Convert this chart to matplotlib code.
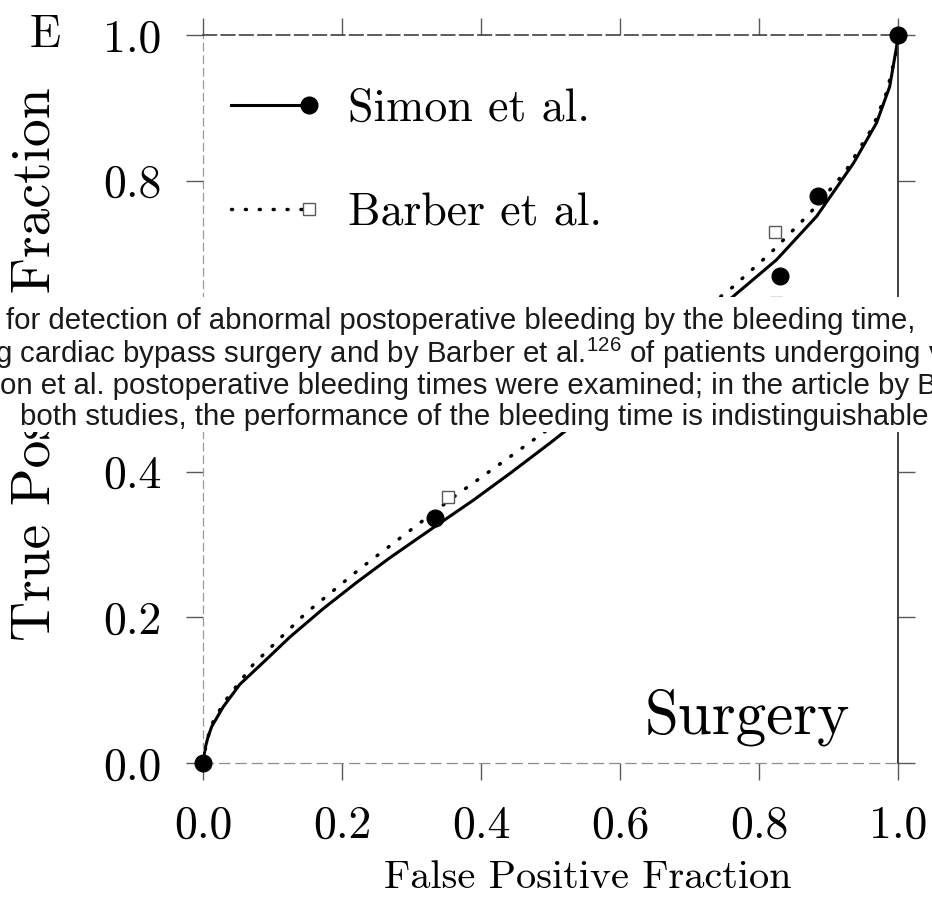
import matplotlib
matplotlib.use('Agg')
import matplotlib.pyplot as plt
from matplotlib.lines import Line2D
from matplotlib.patches import Rectangle
from matplotlib.legend_handler import HandlerLine2D

# ROC curves (FPF, TPF)
simon_fpf = [0, 0.003, 0.007, 0.0125, 0.029, 0.053, 0.092, 0.125, 0.173, 0.221, 0.269,
             0.334, 0.389, 0.442, 0.50, 0.60, 0.70, 0.763, 0.825, 0.883, 0.936, 0.969,
             0.988, 0.998, 1.0]
simon_tpf = [0, 0.02, 0.035, 0.050, 0.077, 0.108, 0.143, 0.173, 0.212, 0.248, 0.282,
             0.325, 0.361, 0.398, 0.440, 0.515, 0.590, 0.641, 0.691, 0.751, 0.824, 0.879,
             0.929, 0.984, 1.0]
barber_fpf = [0, 0.005, 0.012, 0.03, 0.072, 0.147, 0.226, 0.307, 0.36, 0.432, 0.55, 0.65,
              0.760, 0.816, 0.873, 0.924, 0.964, 0.984, 0.997, 1.0]
barber_tpf = [0, 0.028, 0.052, 0.083, 0.135, 0.205, 0.267, 0.326, 0.365, 0.414, 0.495, 0.57,
              0.652, 0.700, 0.755, 0.812, 0.874, 0.922, 0.975, 1.0]

# observed operating points
simon_pt_x = [0, 0.334, 0.830, 0.885, 1.0]
simon_pt_y = [0, 0.336, 0.669, 0.779, 1.0]
barber_pt_x = [0.353, 0.823, 0.825]
barber_pt_y = [0.366, 0.730, 0.632]

ticks = [0.0, 0.2, 0.4, 0.6, 0.8, 1.0]
tick_labels = ['0.0', '0.2', '0.4', '0.6', '0.8', '1.0']

caption = [
    'for detection of abnormal postoperative bleeding by the bleeding time,',
    'g cardiac bypass surgery and by Barber et al.$^{126}$ of patients undergoing v',
    'on et al. postoperative bleeding times were examined; in the article by B',
    'both studies, the performance of the bleeding time is indistinguishable',
]
cap_font = 'Liberation Sans'

plt.rcParams['font.family'] = 'cmr10'
plt.rcParams['axes.formatter.use_mathtext'] = True
plt.rcParams['mathtext.fontset'] = 'custom'
plt.rcParams['mathtext.rm'] = cap_font
plt.rcParams['mathtext.it'] = cap_font


class EndMarker(HandlerLine2D):
    # legend entry: line with the marker only at its right end
    def create_artists(self, *args, **kwargs):
        artists = super().create_artists(*args, **kwargs)
        for a in artists:
            a.set_markevery([len(a.get_xdata()) - 1])
        return artists


fig = plt.figure(figsize=(9.32, 9.17), dpi=100)
ax = fig.add_axes([203 / 932, 1 - 763 / 917, 695 / 932, 728 / 917])

dots = (0, (0.3, 3.7))
ax.plot(barber_fpf, barber_tpf, color='black', lw=2.5, linestyle=dots, dash_capstyle='round')
ax.plot(simon_fpf, simon_tpf, color='black', lw=2.2)
ax.plot(barber_pt_x, barber_pt_y, linestyle='none', marker='s', ms=9, mfc='white',
        mec='0.35', mew=1.0, zorder=4)
ax.plot(simon_pt_x, simon_pt_y, linestyle='none', marker='o', ms=12, color='black',
        clip_on=False, zorder=5)

ax.set_xlim(0, 1)
ax.set_ylim(0, 1)
ax.set_xticks(ticks, labels=tick_labels)
ax.set_yticks(ticks, labels=tick_labels)
ax.tick_params(top=True, right=True, direction='out', length=12, width=1,
               color='0.35', pad=18, labelsize=33)

ax.spines['top'].set(color='0.25', lw=1.2, linestyle=(0, (8, 3)))
ax.spines['right'].set(color='0.2', lw=1.3)
ax.spines['left'].set(color='0.6', lw=0.9, linestyle=(0, (6, 4)))
ax.spines['bottom'].set(color='0.55', lw=0.9, linestyle=(0, (8, 5)))

ax.set_xlabel('False Positive Fraction', fontsize=29)
ax.xaxis.set_label_coords(0.553, -0.133)
ax.set_ylabel('True Positive Fraction', fontsize=40)
ax.yaxis.set_label_coords(-0.205, 0.548)

ax.text(0.931, 0.041, 'Surgery', transform=ax.transAxes, fontsize=44,
        ha='right', va='baseline')
ax.text(-0.249, 0.9835, 'E', transform=ax.transAxes, fontsize=33,
        ha='left', va='baseline')

handles = [
    Line2D([], [], color='black', lw=2.2, marker='o', ms=12),
    Line2D([], [], color='black', lw=2.5, linestyle=dots, dash_capstyle='round',
           marker='s', ms=9, mfc='white', mec='0.35', mew=1.0),
]
ax.legend(handles, ['Simon et al.', 'Barber et al.'], loc='upper left',
          bbox_to_anchor=(0.02, 0.927), frameon=False, numpoints=2, fontsize=33,
          handlelength=2.3, handletextpad=0.55, labelspacing=1.37,
          borderpad=0, borderaxespad=0, handler_map={Line2D: EndMarker()})

# caption strip from the scanned page laid over the plot
fig.patches.append(Rectangle((0, 1 - 432 / 917), 1, 135 / 917, transform=fig.transFigure,
                             facecolor='white', edgecolor='none', zorder=10))
cap_x = [6 / 932, -5 / 932, 0 / 932, 20 / 932]
cap_y = [321, 353, 386, 417]
cap_texts = []
for txt, x, y in zip(caption, cap_x, cap_y):
    cap_texts.append(fig.text(x, 1 - y / 917, txt, family=cap_font, fontsize=19,
                              ha='left', va='center', color='#1a1a1a', zorder=11))

# fit the caption size so lines 1 and 4 span the page as in the scan
fig.canvas.draw()
w = cap_texts[0].get_window_extent().width + cap_texts[3].get_window_extent().width
size = 19 * (919 + 895) / w
for t in cap_texts:
    t.set_fontsize(size)

fig.savefig('out.png', dpi=100)
